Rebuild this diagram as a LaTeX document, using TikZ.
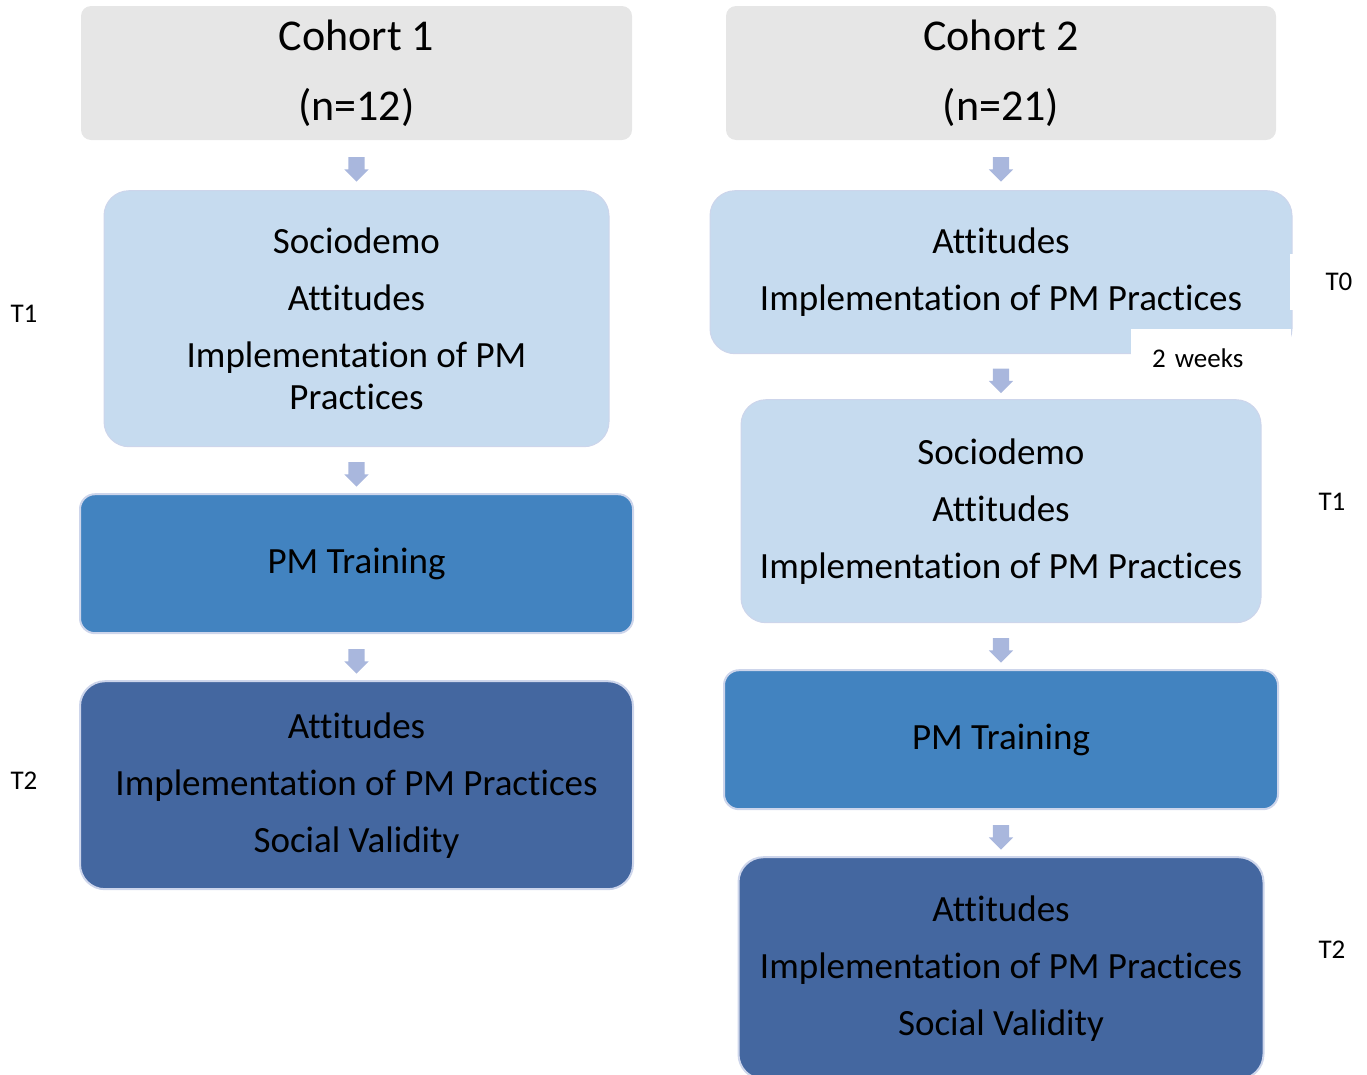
\documentclass[tikz,border=0pt]{standalone}
\usepackage{fontspec}
\setmainfont{Carlito}[RawFeature={-liga;-clig;-calt}]
\usetikzlibrary{positioning, shapes.arrows}

\definecolor{cohortgrey}{HTML}{E6E6E6}
\definecolor{lightbox}{HTML}{C6DBEF}
\definecolor{midbox}{HTML}{4283C0}
\definecolor{darkbox}{HTML}{4467A0}
\definecolor{boxline}{HTML}{CDD5EB}
\definecolor{arrowfill}{HTML}{A9B7DD}

\begin{document}
\begin{tikzpicture}[x=1pt, y=-1pt, node distance=48pt,
    cohort/.style={fill=cohortgrey, rounded corners=10pt, minimum height=134pt, align=center, font=\fontsize{44}{70}\selectfont},
    survey/.style={fill=lightbox, draw=boxline, line width=1pt, rounded corners=25pt, align=center, font=\fontsize{37}{42}\selectfont},
    training/.style={fill=midbox, draw=boxline, line width=2pt, rounded corners=15pt, minimum height=139pt, font=\fontsize{37}{42}\selectfont},
    posttest/.style={fill=darkbox, draw=boxline, line width=2pt, rounded corners=25pt, align=center, font=\fontsize{37}{42}\selectfont},
    downarrow/.style={single arrow, shape border rotate=270, fill=arrowfill, minimum height=24pt, minimum width=24pt, single arrow head extend=4pt, single arrow head indent=0pt, inner sep=8pt},
    timelabel/.style={font=\fontsize{27}{32}\selectfont}]
    \useasboundingbox (0,0) rectangle (1367,1074);

    % Cohort 1 column
    \node[cohort, minimum width=551pt] (c1) at (356.5,73) {Cohort 1\\(n=12)};
    \node[survey, minimum width=505pt, minimum height=256pt, below=50pt of c1] (base1) {Sociodemo\\[15pt]Attitudes\\[15pt]Implementation of PM\\Practices};
    \node[training, minimum width=553pt, below=46pt of base1] (train1) {PM Training};
    \node[posttest, minimum width=553pt, minimum height=208pt, below=46pt of train1] (post1) {Attitudes\\[15pt]Implementation of PM Practices\\[15pt]Social Validity};

    % Cohort 2 column
    \node[cohort, minimum width=550pt] (c2) at (1001,73) {Cohort 2\\(n=21)};
    \node[survey, minimum width=582pt, minimum height=163pt, below=50pt of c2] (pre2) {Attitudes\\[15pt]Implementation of PM Practices};
    \node[survey, minimum width=520pt, minimum height=223pt, below=45pt of pre2] (base2) {Sociodemo\\[15pt]Attitudes\\[15pt]Implementation of PM Practices};
    \node[training, minimum width=554pt, below=46pt of base2] (train2) {PM Training};
    \node[posttest, minimum width=525pt, minimum height=222pt, below=46pt of train2] (post2) {Attitudes\\[15pt]Implementation of PM Practices\\[15pt]Social Validity};

    % block arrows between steps
    \foreach \a/\b in {c1/base1, base1/train1, train1/post1, c2/pre2, pre2/base2, base2/train2, train2/post2}
        \path (\a.south) -- node[downarrow] {} (\b.north);

    % time points
    \node[timelabel] (t1a) at (24,314) {T1};
    \node[timelabel] (t2a) at (24,781) {T2};
    \node[timelabel, fill=white, minimum width=98pt, minimum height=56pt] (t0b) at (1339,282) {T0};
    \node[timelabel] (t1b) at (1332,502) {T1};
    \node[timelabel] (t2b) at (1332,950) {T2};
    \node[timelabel, fill=white, anchor=north west, text width=118pt, inner xsep=21pt, minimum height=58pt, align=left] (delay) at (1131,329) {2 weeks};
\end{tikzpicture}
\end{document}
